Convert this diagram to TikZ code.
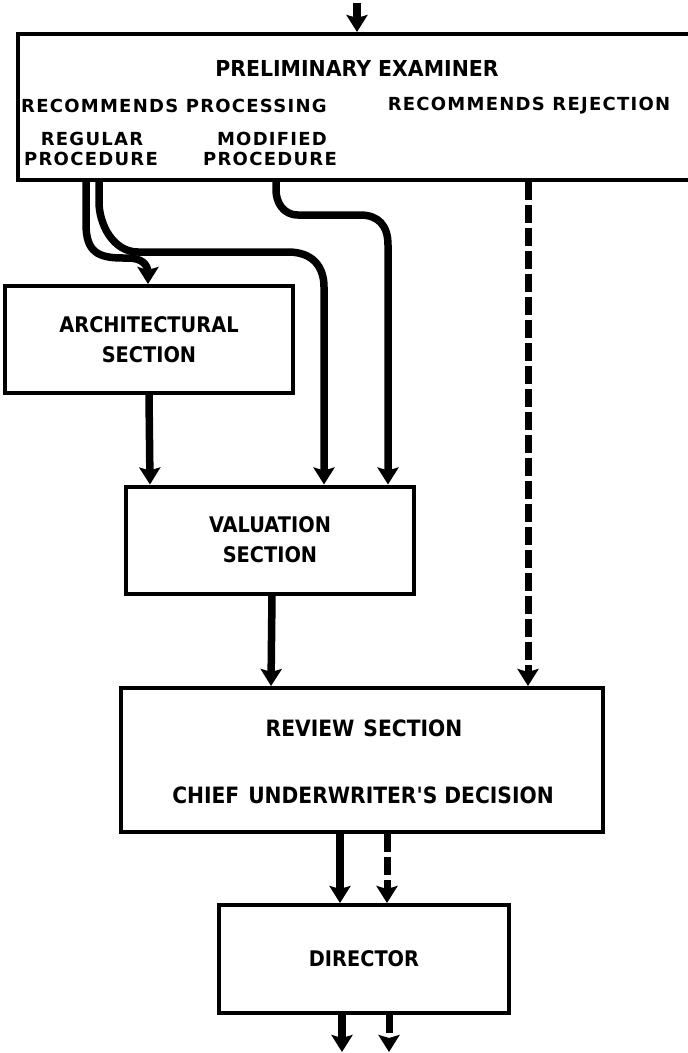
\documentclass[tikz,border=0pt]{standalone}
\usepackage{fontspec}
\usetikzlibrary{arrows.meta}
\newfontfamily\lettwide[LetterSpace=7]{DejaVu Sans}
\newfontfamily\lettbox[FakeStretch=0.9]{DejaVu Sans}
\newfontfamily\letttitle[FakeStretch=0.93]{DejaVu Sans}
\begin{document}
\begin{tikzpicture}[x=1pt,y=-1pt,
  box/.style={draw,line width=4pt,inner sep=0pt,align=center,
    font=\lettbox\bfseries\fontsize{21.5}{30}\selectfont},
  smalltxt/.style={inner sep=0pt,font=\lettwide\bfseries\fontsize{18}{20}\selectfont},
  bigtxt/.style={inner sep=0pt,font=\letttitle\bfseries\fontsize{22}{24}\selectfont},
  revtxt/.style={inner sep=0pt,font=\lettbox\bfseries\fontsize{22.5}{24}\selectfont},
  flow/.style={line width=7.5pt,-{Stealth[width=21pt,length=17pt,inset=3pt]}},
  rejflow/.style={line width=7pt,dash pattern=on 18pt off 5pt,-{Stealth[width=21pt,length=17pt,inset=3pt]}}]
\useasboundingbox (0,0) rectangle (688,1053);
\clip (0,0) rectangle (688,1053);
% boxes
\node[box,minimum width=682pt,minimum height=146pt] (prelim) at (359,107) {};
\node[box,minimum width=288pt,minimum height=107pt] (arch) at (149,339.5) {ARCHITECTURAL\\SECTION};
\node[box,minimum width=288pt,minimum height=107pt] (val) at (270,540) {VALUATION\\SECTION};
\node[box,minimum width=482pt,minimum height=144pt] (rev) at (362,760) {};
\node[box,minimum width=290pt,minimum height=108pt] (dir) at (364,959) {DIRECTOR};
% texts
\node[bigtxt] (t1) at (357,68) {PRELIMINARY EXAMINER};
\node[smalltxt,anchor=west] (t2) at (21,106) {RECOMMENDS PROCESSING};
\node[smalltxt] (t3) at (529,106) {RECOMMENDS REJECTION};
\node[smalltxt] (t4) at (92,139) {REGULAR};
\node[smalltxt] (t5) at (91,159) {PROCEDURE};
\node[smalltxt] (t6) at (272,139) {MODIFIED};
\node[smalltxt] (t7) at (270,159) {PROCEDURE};
\node[revtxt] (t8) at (364,728) {REVIEW\hspace{0.4em}SECTION};
\node[revtxt] (t9) at (363,795) {CHIEF\hspace{0.4em}UNDERWRITER'S DECISION};
% connectors
\coordinate (in) at (357,3);
\draw[flow] (in) -- (prelim.north -| in);
\draw[flow] ([xshift=70pt]prelim.south west) -- ++(0,42) .. controls ++(0,28) and ++(-25,0) .. ++(37,34) -- ++(5,0) .. controls ++(13,0) and ++(0,-9) .. ++(20,15) -- ([xshift=145pt]arch.north west);
\draw[flow] ([xshift=83pt]prelim.south west) -- ++(0,20) .. controls ++(0,22) and ++(-25,0) .. ++(39,50) -- ++(150,0) .. controls ++(25,0) and ++(0,-20) .. ++(36,35) -- ([xshift=200pt]val.north west);
\draw[flow] ([xshift=260pt]prelim.south west) -- ++(0,8) .. controls ++(0,12) and ++(-15,0) .. ++(22,25) -- ++(62,0) .. controls ++(18,0) and ++(0,-20) .. ++(28,30) -- ([xshift=264pt]val.north west);
\draw[flow] ([xshift=146pt]arch.south west) -- ([xshift=26pt]val.north west);
\draw[flow] ([xshift=148pt]val.south west) -- ([xshift=152pt]rev.north west);
\draw[rejflow] ([xshift=512pt]prelim.south west) -- ([xshift=409pt]rev.north west);
\draw[flow] ([xshift=221pt]rev.south west) -- ([xshift=123pt]dir.north west);
\draw[rejflow] ([xshift=268pt]rev.south west) -- ([xshift=170pt]dir.north west);
\coordinate (out1) at (342,1052);
\coordinate (out2) at (389,1052);
\draw[flow] (dir.south -| out1) -- (out1);
\draw[rejflow] (dir.south -| out2) -- (out2);
\end{tikzpicture}
\end{document}
